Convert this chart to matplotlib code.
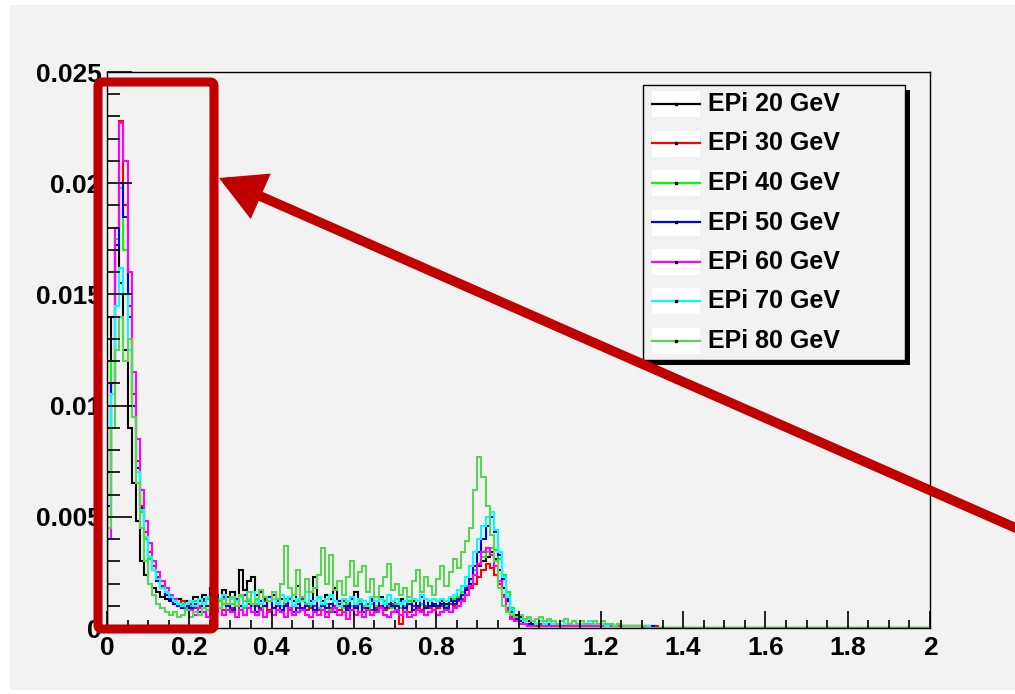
import numpy as np
import matplotlib
matplotlib.use("Agg")
import matplotlib.pyplot as plt
from matplotlib.patches import Rectangle, FancyBboxPatch, FancyArrowPatch
from matplotlib.lines import Line2D
from matplotlib.transforms import Affine2D

# ---------------------------------------------------------------- data
# bin contents in units of 1e-3, bins of width 0.01 starting at 0
UNIT = 1e-3
BIN_WIDTH = 0.01
X_MAX = 2.0

epi_20 = [
    7.0, 14.0, 17.2, 15.5, 12.5, 9.0, 6.5, 4.8, 3.0, 2.4,
    2.0, 1.8, 1.6, 1.4, 1.3, 1.2, 1.1, 1.3, 1.0, 1.2,
    1.1, 1.4, 1.2, 1.5, 1.3, 1.8, 1.5, 1.2, 1.7, 1.4,
    1.6, 1.2, 2.6, 1.7, 2.1, 2.3, 1.5, 1.6, 1.3, 1.4,
    1.5, 1.2, 1.3, 1.1, 1.4, 1.2, 1.9, 1.3, 1.1, 1.2,
    2.3, 1.4, 1.2, 1.5, 1.3, 1.8, 1.1, 1.2, 1.0, 1.3,
    1.6, 1.1, 1.2, 0.9, 1.3, 1.0, 1.4, 1.1, 0.9, 1.2,
    1.0, 1.3, 0.9, 1.1, 1.2, 1.0, 1.1, 0.9, 1.2, 1.0,
    1.0, 1.2, 1.1, 1.3, 1.2, 1.4, 1.5, 1.7, 2.0, 2.4,
    2.8, 3.0, 3.2, 3.4, 3.1, 2.6, 1.8, 1.2, 0.8, 0.6,
    0.5, 0.3, 0.3, 0.2, 0.2, 0.1, 0.2, 0.1, 0.1, 0.2,
    0.1, 0.1, 0.2, 0.1, 0.1, 0.1, 0.1, 0.2, 0.1, 0.1,
    0.1, 0.1, 0.1, 0.1, 0.1, 0.1, 0.1, 0.1, 0.1, 0.1,
    0.1, 0.1, 0.1, 0.0, 0.0,
]
epi_30 = [
    5.0, 11.0, 18.0, 22.8, 19.0, 14.5, 10.5, 7.5, 5.5, 4.3,
    3.4, 2.8, 2.3, 1.9, 1.6, 1.4, 1.3, 1.1, 1.2, 1.0,
    1.1, 0.9, 1.0, 1.2, 0.8, 1.0, 0.9, 1.3, 0.8, 1.0,
    0.9, 1.2, 0.8, 1.0, 1.1, 0.7, 1.0, 0.9, 1.2, 0.8,
    0.9, 1.0, 0.7, 1.1, 0.8, 1.0, 0.9, 1.3, 0.8, 0.9,
    1.0, 0.8, 1.1, 0.7, 0.9, 1.0, 0.8, 1.2, 0.9, 0.8,
    1.0, 0.7, 0.9, 1.1, 0.8, 0.9, 1.0, 0.8, 0.9, 1.1,
    0.8, 0.2, 0.9, 0.7, 1.0, 0.9, 0.8, 1.0, 0.9, 0.8,
    0.9, 1.0, 0.8, 1.1, 1.0, 1.2, 1.3, 1.5, 1.8, 2.0,
    2.3, 2.6, 2.9, 2.7, 2.4, 2.0, 1.5, 0.9, 0.5, 0.3,
    0.2, 0.2, 0.1, 0.1, 0.1, 0.2, 0.1, 0.1, 0.1, 0.1,
    0.1, 0.1, 0.1, 0.1, 0.1, 0.1, 0.1, 0.1, 0.1, 0.1,
    0.1, 0.1, 0.1, 0.1, 0.1, 0.1, 0.1, 0.1, 0.1, 0.1,
    0.1, 0.1, 0.1, 0.1, 0.0,
]
epi_40 = [
    6.0, 12.0, 17.5, 19.8, 17.0, 13.0, 9.5, 7.0, 5.2, 4.0,
    3.1, 2.6, 2.1, 1.8, 1.5, 1.3, 1.2, 1.0, 1.1, 0.9,
    1.0, 1.2, 0.9, 1.1, 1.3, 0.9, 1.0, 1.2, 1.1, 0.8,
    1.1, 1.3, 1.0, 0.9, 1.2, 1.0, 1.1, 0.8, 1.0, 1.2,
    0.9, 1.1, 1.0, 1.3, 0.9, 1.0, 1.2, 0.8, 1.1, 1.0,
    1.2, 0.9, 1.0, 1.1, 0.8, 1.2, 1.0, 0.9, 1.1, 1.0,
    0.9, 1.2, 1.0, 0.8, 1.1, 1.0, 0.9, 1.2, 1.0, 0.9,
    1.1, 0.9, 1.0, 1.2, 0.8, 1.0, 1.1, 0.9, 1.0, 1.1,
    1.0, 1.1, 1.0, 1.2, 1.3, 1.4, 1.6, 1.9, 2.2, 2.6,
    2.9, 3.2, 3.4, 3.6, 3.5, 3.1, 2.4, 1.6, 0.9, 0.5,
    0.3, 0.2, 0.2, 0.1, 0.2, 0.1, 0.1, 0.1, 0.2, 0.1,
    0.1, 0.1, 0.1, 0.1, 0.1, 0.1, 0.1, 0.1, 0.1, 0.1,
    0.1, 0.1, 0.1, 0.1, 0.1, 0.1, 0.1, 0.1, 0.1, 0.1,
    0.1, 0.1, 0.0, 0.0, 0.0,
]
epi_50 = [
    5.5, 11.0, 17.0, 20.0, 18.5, 14.0, 10.0, 7.2, 5.4, 4.1,
    3.2, 2.6, 2.1, 1.8, 1.5, 1.3, 1.1, 1.0, 0.9, 1.0,
    0.9, 1.1, 0.7, 1.3, 1.0, 0.8, 1.2, 0.9, 1.4, 1.0,
    0.8, 1.3, 1.0, 1.5, 0.9, 1.1, 0.7, 1.2, 1.0, 1.4,
    0.9, 1.2, 0.8, 1.0, 1.3, 0.7, 1.1, 0.9, 1.0, 1.2,
    0.8, 1.4, 1.0, 0.9, 1.1, 0.7, 1.2, 1.0, 0.8, 1.3,
    0.9, 1.1, 0.7, 1.0, 1.2, 0.8, 1.3, 0.9, 1.1, 1.0,
    0.7, 1.2, 0.9, 1.1, 0.8, 1.0, 1.4, 0.9, 1.0, 1.1,
    1.0, 1.1, 0.9, 1.2, 1.1, 1.3, 1.5, 1.8, 2.2, 2.8,
    3.4, 4.0, 4.6, 5.0, 4.3, 3.3, 2.2, 1.3, 0.7, 0.4,
    0.3, 0.2, 0.2, 0.1, 0.2, 0.1, 0.1, 0.2, 0.1, 0.1,
    0.1, 0.1, 0.1, 0.1, 0.1, 0.1, 0.1, 0.1, 0.1, 0.1,
    0.1, 0.1, 0.1, 0.1, 0.1, 0.1, 0.1, 0.1, 0.1, 0.1,
    0.1, 0.1, 0.1, 0.0, 0.0,
]
epi_60 = [
    4.0, 10.0, 18.0, 22.7, 21.0, 16.0, 11.5, 8.5, 6.2, 4.8,
    3.8, 3.0, 2.5, 2.1, 1.8, 1.5, 1.3, 1.1, 1.0, 0.8,
    0.8, 0.6, 0.9, 0.7, 0.5, 0.8, 0.7, 0.9, 0.6, 0.8,
    0.7, 0.5, 0.8, 0.6, 0.9, 0.7, 0.6, 0.8, 0.5, 0.7,
    0.6, 0.8, 0.7, 0.5, 0.9, 0.6, 0.7, 0.8, 0.6, 0.5,
    0.7, 0.6, 0.8, 0.5, 0.7, 0.9, 0.6, 0.7, 0.4, 0.8,
    0.6, 0.7, 0.5, 0.8, 0.6, 0.7, 0.9, 0.6, 0.5, 0.7,
    0.8, 0.6, 0.7, 0.5, 0.6, 0.8, 0.7, 0.6, 0.7, 0.8,
    0.6, 0.7, 0.8, 0.7, 0.9, 1.0, 1.2, 1.5, 1.9, 2.4,
    2.9, 3.4, 3.6, 3.3, 2.8, 2.1, 1.4, 0.8, 0.4, 0.3,
    0.2, 0.2, 0.1, 0.1, 0.2, 0.1, 0.1, 0.1, 0.1, 0.1,
    0.1, 0.1, 0.1, 0.1, 0.1, 0.1, 0.1, 0.1, 0.1, 0.1,
    0.1, 0.1, 0.1, 0.1, 0.1, 0.1, 0.1, 0.1, 0.1, 0.1,
    0.0, 0.0, 0.0, 0.0, 0.0,
]
epi_70 = [
    5.0, 10.5, 14.5, 16.2, 15.0, 12.5, 9.5, 7.0, 5.3, 4.1,
    3.2, 2.6, 2.2, 1.8, 1.6, 1.4, 1.2, 1.1, 1.0, 1.1,
    1.2, 1.0, 1.3, 1.1, 1.4, 1.2, 1.0, 1.3, 1.5, 1.1,
    1.3, 1.2, 1.4, 1.0, 1.3, 1.6, 1.2, 1.1, 1.4, 1.2,
    1.3, 1.1, 1.5, 1.2, 1.4, 1.0, 1.3, 1.2, 1.6, 1.1,
    1.2, 1.4, 1.1, 1.3, 1.5, 1.2, 1.0, 1.3, 1.2, 1.4,
    1.1, 1.3, 1.2, 1.0, 1.4, 1.2, 1.3, 1.1, 1.5, 1.2,
    1.3, 1.1, 1.2, 1.4, 1.3, 1.2, 1.5, 1.3, 1.2, 1.3,
    1.2, 1.3, 1.2, 1.4, 1.5, 1.7, 1.9, 2.3, 2.8, 3.4,
    4.0, 4.6, 5.0, 5.2, 4.4, 3.4, 2.3, 1.4, 0.8, 0.5,
    0.4, 0.3, 0.4, 0.3, 0.2, 0.3, 0.2, 0.3, 0.2, 0.2,
    0.3, 0.2, 0.2, 0.3, 0.2, 0.2, 0.2, 0.3, 0.2, 0.2,
    0.2, 0.1, 0.2, 0.1, 0.2, 0.1, 0.1, 0.1, 0.1, 0.1,
    0.1, 0.1, 0.0, 0.0, 0.0,
]
epi_80 = [
    4.5, 9.0, 12.5, 14.0, 12.0, 13.0, 9.5, 6.5, 4.5, 3.0,
    2.0, 1.5, 1.1, 0.9, 0.7, 0.6, 0.7, 0.5, 0.6, 0.8,
    0.5, 0.7, 0.6, 0.9, 0.8, 1.0, 1.2, 0.9, 1.3, 1.1,
    1.4, 1.0, 1.5, 1.2, 1.6, 1.1, 1.3, 1.7, 1.4, 1.2,
    1.6, 1.3, 2.0, 3.7, 1.8, 1.5, 2.6, 1.4, 2.2, 1.6,
    1.8, 2.4, 3.6, 2.0, 3.3, 1.7, 2.1, 1.5, 2.3, 3.0,
    1.9, 2.5, 2.8, 1.6, 2.2, 1.4, 1.9, 2.3, 2.9, 1.7,
    2.0, 1.5, 1.8, 1.4, 2.1, 2.6, 1.6, 2.3, 1.9, 1.5,
    2.2, 2.8, 1.9, 2.5, 3.1, 2.7, 3.4, 3.9, 4.5, 6.2,
    7.7, 6.8, 5.5, 4.2, 3.0, 1.8, 1.0, 0.7, 0.6, 0.5,
    0.6, 0.4, 0.5, 0.3, 0.4, 0.5, 0.3, 0.4, 0.3, 0.2,
    0.3, 0.4, 0.2, 0.3, 0.2, 0.3, 0.2, 0.2, 0.3, 0.2,
    0.3, 0.2, 0.2, 0.1, 0.2, 0.1, 0.1, 0.1, 0.1, 0.1,
    0.1, 0.0, 0.0, 0.0, 0.0,
]

series_labels = ["EPi 20 GeV", "EPi 30 GeV", "EPi 40 GeV", "EPi 50 GeV",
                 "EPi 60 GeV", "EPi 70 GeV", "EPi 80 GeV"]
series_values = [epi_20, epi_30, epi_40, epi_50, epi_60, epi_70, epi_80]
series_colors = ["#000000", "#ff0000", "#00ff00", "#0000ff",
                 "#ff00ff", "#00ffff", "#5ad454"]

x_tick_values = [0, 0.2, 0.4, 0.6, 0.8, 1.0, 1.2, 1.4, 1.6, 1.8, 2.0]
x_tick_labels = ["0", "0.2", "0.4", "0.6", "0.8", "1", "1.2", "1.4", "1.6", "1.8", "2"]
y_tick_values = [0, 0.005, 0.01, 0.015, 0.02, 0.025]
y_tick_labels = ["0", "0.005", "0.01", "0.015", "0.02", "0.025"]

# ---------------------------------------------------------------- figure
W, H = 1015, 694
BG = "#f2f2f2"
FONT = "Liberation Sans"

fig = plt.figure(figsize=(W / 100, H / 100), dpi=100, facecolor="white")
# pixel coordinates (origin top-left) -> figure
PX = Affine2D().scale(1 / W, -1 / H).translate(0, 1) + fig.transFigure

fig.patches.append(Rectangle((10, 5), 1005, 685, transform=PX,
                             facecolor=BG, edgecolor="none", zorder=-5))

ax = fig.add_axes([107 / W, 66 / H, 823 / W, 556 / H])
ax.set_facecolor("none")
ax.set_zorder(1)

n_bins = int(round(X_MAX / BIN_WIDTH))
edges = np.linspace(0, X_MAX, n_bins + 1)
for vals, col in zip(series_values, series_colors):
    v = np.zeros(n_bins)
    v[:len(vals)] = np.asarray(vals) * UNIT
    ax.stairs(v, edges, color=col, linewidth=1.5, baseline=0)

ax.set_xlim(0, X_MAX)
ax.set_ylim(0, 0.025)

ax.set_xticks(x_tick_values)
ax.set_xticklabels(x_tick_labels)
ax.set_yticks(y_tick_values)
ax.set_yticklabels(y_tick_labels)
ax.set_xticks(np.arange(0, X_MAX + 1e-9, 0.05), minor=True)
ax.set_yticks(np.arange(0, 0.025 + 1e-9, 0.001), minor=True)
ax.tick_params(axis="x", which="major", direction="in", length=12, width=1.2, pad=6)
ax.tick_params(axis="x", which="minor", direction="in", length=6, width=1.2)
ax.tick_params(axis="y", which="major", direction="in", length=18, width=1.2, pad=4)
ax.tick_params(axis="y", which="minor", direction="in", length=9, width=1.2)
for lab in ax.get_xticklabels() + ax.get_yticklabels():
    lab.set_fontfamily(FONT)
    lab.set_fontweight("bold")
    lab.set_fontsize(19)
for sp in ax.spines.values():
    sp.set_linewidth(1.0)
    sp.set_color("#000000")

# ---------------------------------------------------------------- legend
fig.patches.append(Rectangle((648, 90), 262, 275, transform=PX,
                             facecolor="black", edgecolor="none", zorder=5))
fig.patches.append(Rectangle((643, 85), 262, 275, transform=PX,
                             facecolor=BG, edgecolor="black", linewidth=1.0, zorder=6))
for i, (lab, col) in enumerate(zip(series_labels, series_colors)):
    yc = 104 + i * 39.5
    fig.patches.append(Rectangle((652, yc - 13), 48, 26, transform=PX,
                                 facecolor="white", edgecolor="none", zorder=7))
    fig.lines.append(Line2D([652, 700], [yc, yc], transform=PX, color=col,
                            linewidth=1.6, zorder=8))
    fig.lines.append(Line2D([676], [yc], transform=PX, color="black", marker="s",
                            markersize=1.5, linestyle="none", zorder=9))
    fig.text(708 / W, 1 - yc / H, lab, fontfamily=FONT, fontweight="bold",
             fontsize=18, va="center", ha="left", zorder=9)

# ---------------------------------------------------------------- highlight box and arrow
RED = "#c00000"
fig.patches.append(FancyBboxPatch((98, 82), 116, 547, transform=PX,
                                  boxstyle="round,pad=0,rounding_size=4",
                                  facecolor="none", edgecolor=RED, linewidth=6.5,
                                  zorder=10))
fig.patches.append(FancyArrowPatch((1018, 529), (219, 178), transform=PX,
                                   arrowstyle="-|>,head_length=22,head_width=12",
                                   mutation_scale=1, shrinkA=0, shrinkB=0,
                                   color=RED, linewidth=7, joinstyle="miter",
                                   zorder=10))

fig.savefig("out.png", dpi=100, facecolor=fig.get_facecolor())
